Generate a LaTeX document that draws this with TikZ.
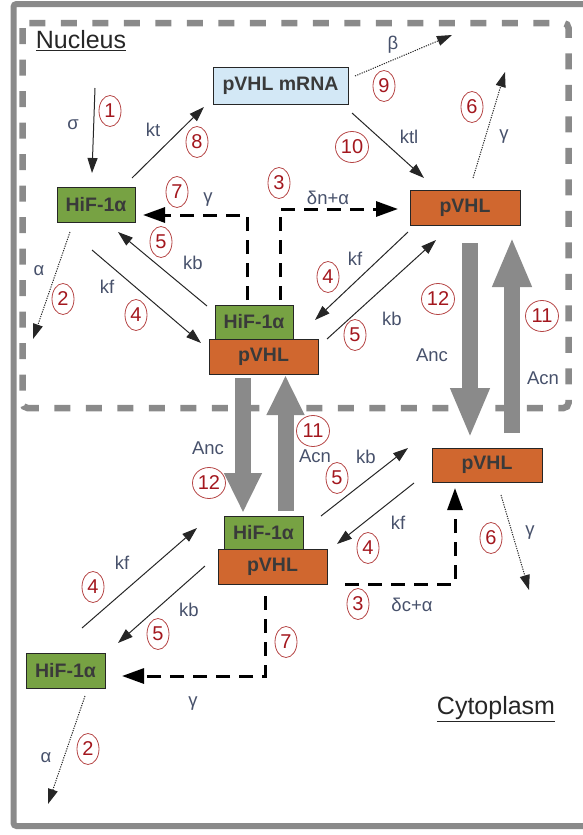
\documentclass[tikz,border=0pt]{standalone}
\usepackage{fontspec}
\setmainfont{Liberation Sans}
\usetikzlibrary{arrows.meta,shapes.geometric}
\definecolor{hifgreen}{HTML}{77A243}
\definecolor{vhlorange}{HTML}{D0672F}
\definecolor{mrnablue}{HTML}{D3E8F6}
\definecolor{boxtext}{HTML}{3A3A3A}
\definecolor{labtext}{HTML}{47516B}
\definecolor{numred}{HTML}{A3171E}
\definecolor{ringred}{HTML}{B54545}
\definecolor{framegray}{HTML}{8A8A8A}
\begin{document}
\begin{tikzpicture}[x=1pt,y=-1pt,
 box/.style={draw=black!85, line width=0.9pt, inner sep=0pt, font=\fontsize{19.5}{19.5}\selectfont\bfseries, text=boxtext},
 hif/.style={box, fill=hifgreen, minimum width=78pt, minimum height=34pt},
 vhl/.style={box, fill=vhlorange, minimum width=109pt, minimum height=35pt},
 lab/.style={font=\fontsize{18.5}{18.5}\selectfont, text=labtext, inner sep=0pt},
 num/.style={ellipse, draw=ringred, line width=0.8pt, minimum width=22pt, minimum height=31pt, inner sep=0pt, font=\fontsize{20}{20}\selectfont, text=numred},
 numw/.style={num, minimum width=33pt},
 rx/.style={draw=black!85, line width=1pt, -{Triangle[length=15pt,width=10pt]}},
 deg/.style={rx, dash pattern=on 1.2pt off 1.2pt},
 dsh/.style={draw=black, line width=3pt, dash pattern=on 14pt off 9pt, -{Triangle[length=22pt,width=15pt]}},
 big/.style={draw=framegray, line width=16pt, -{Triangle[length=50pt,width=36pt]}},
 bigm/.style={draw=framegray, line width=16pt, -{Triangle[length=40pt,width=35pt]}},
 title/.style={font=\fontsize{25}{25}\selectfont, text=black!85, inner sep=0pt},
]
\useasboundingbox (0,0) rectangle (582,835);
% frames
\draw[framegray, line width=6pt, rounded corners=3pt] (13.5,4) rectangle (600,826);
\draw[framegray, line width=6.5pt, dash pattern=on 16pt off 15.5pt, rounded corners=5pt] (22.5,23) rectangle (568.5,408);

\node[title] (nuc) at (81,41) {\underline{Nucleus}};
\node[title] (cyt) at (496,709) {\underline{Cytoplasm}};

% boxes
\node[box, fill=mrnablue, minimum width=135pt, minimum height=37pt] (mrna) at (280.5,85.5) {pVHL mRNA};
\node[hif, minimum height=35pt] (hifA) at (96,204.5) {HiF-1α};
\node[vhl, minimum width=110pt] (pvhlA) at (465,207.5) {pVHL};
\node[vhl] (pvhlB) at (263.5,356.5) {pVHL};
\node[hif] (hifB) at (254,322) {HiF-1α};
\node[vhl, minimum width=110pt, minimum height=34pt] (pvhlC) at (487,465) {pVHL};
\node[vhl] (pvhlD) at (272.5,566.5) {pVHL};
\node[hif, minimum width=79pt, minimum height=33pt] (hifC) at (263.5,532.5) {HiF-1α};
\node[hif, minimum width=79pt, minimum height=35pt] (hifD) at (65.5,670.5) {HiF-1α};

% free ends and connector ends
\coordinate (c1s) at (95,88);   \coordinate (c1e) at (92,173);
\coordinate (c8s) at (132,178); \coordinate (c8e) at (204,107);
\coordinate (c9s) at (355,76);  \coordinate (c9e) at (452,35);
\coordinate (c10s) at (352,113); \coordinate (c10e) at (424,178);
\coordinate (c6ts) at (473,178); \coordinate (c6te) at (505,72);
\coordinate (c2ts) at (70,232); \coordinate (c2te) at (33,339);
\coordinate (c4as) at (92,250); \coordinate (c4ae) at (201,343);
\coordinate (c5as) at (207,306); \coordinate (c5ae) at (118,232);
\coordinate (c7ts) at (247,300); \coordinate (c7tk) at (247,215); \coordinate (c7te) at (143,215);
\coordinate (c3ts) at (280,300); \coordinate (c3tk) at (280,209); \coordinate (c3te) at (398,209);
\coordinate (c4bs) at (408,232); \coordinate (c4be) at (315,320);
\coordinate (c5bs) at (327,339); \coordinate (c5be) at (436,240);
\coordinate (c12rs) at (470,243); \coordinate (c12re) at (470,438);
\coordinate (c11rs) at (512,433); \coordinate (c11re) at (512,237);
\coordinate (c12ms) at (243,378); \coordinate (c12me) at (243,513);
\coordinate (c11ms) at (285.5,511); \coordinate (c11me) at (285.5,375);
\coordinate (c5cs) at (321,516); \coordinate (c5ce) at (408,448);
\coordinate (c4cs) at (414,483); \coordinate (c4ce) at (337,544);
\coordinate (c3bs) at (345,584); \coordinate (c3bk) at (455,584); \coordinate (c3be) at (455,488);
\coordinate (c6bs) at (501,495); \coordinate (c6be) at (529,590);
\coordinate (c4ds) at (82,628); \coordinate (c4de) at (197,528);
\coordinate (c5ds) at (205,566); \coordinate (c5de) at (118,643);
\coordinate (c7bs) at (265,596); \coordinate (c7bk) at (265,676); \coordinate (c7be) at (122,676);
\coordinate (c2bs) at (85,696); \coordinate (c2be) at (48,804);

% connectors
\draw[rx] (c1s) -- (c1e);
\draw[rx] (c8s) -- (c8e);
\draw[deg] (c9s) -- (c9e);
\draw[rx] (c10s) -- (c10e);
\draw[deg] (c6ts) -- (c6te);
\draw[deg] (c2ts) -- (c2te);
\draw[rx] (c4as) -- (c4ae);
\draw[rx] (c5as) -- (c5ae);
\draw[dsh] (c7ts) -- (c7tk) -- (c7te);
\draw[dsh] (c3ts) -- (c3tk) -- (c3te);
\draw[rx] (c4bs) -- (c4be);
\draw[rx] (c5bs) -- (c5be);
\draw[big] (c12rs) -- (c12re);
\draw[big] (c11rs) -- (c11re);
\draw[bigm] (c12ms) -- (c12me);
\draw[bigm] (c11ms) -- (c11me);
\draw[rx] (c5cs) -- (c5ce);
\draw[rx] (c4cs) -- (c4ce);
\draw[dsh] (c3bs) -- (c3bk) -- (c3be);
\draw[deg] (c6bs) -- (c6be);
\draw[rx] (c4ds) -- (c4de);
\draw[rx] (c5ds) -- (c5de);
\draw[dsh] (c7bs) -- (c7bk) -- (c7be);
\draw[deg] (c2bs) -- (c2be);

% labels
\node[lab] (l1) at (73,125) {σ};      \node[num] (n1) at (110,111) {1};
\node[lab] (l8) at (153,130) {kt};    \node[num] (n8) at (197,142) {8};
\node[lab] (l9) at (393,45) {β};      \node[num] (n9) at (384,86) {9};
\node[lab] (l10) at (409,137) {ktl};  \node[numw] (n10) at (352,147) {10};
\node[lab] (l6t) at (504,137) {γ};    \node[num] (n6t) at (472,107) {6};
\node[lab] (l2t) at (39,271) {α};     \node[num] (n2t) at (63,299) {2};
\node[lab] (l4a) at (107,287) {kf};   \node[num] (n4a) at (136,315) {4};
\node[lab] (l5a) at (193,263) {kb};   \node[num] (n5a) at (161,242) {5};
\node[lab] (l7t) at (208,200) {γ};    \node[num] (n7t) at (177,192) {7};
\node[lab] (l3t) at (328,198) {δn+α}; \node[num] (n3t) at (279,183) {3};
\node[lab] (l4b) at (355,259) {kf};   \node[num] (n4b) at (328,277) {4};
\node[lab] (l5b) at (392,319) {kb};   \node[num] (n5b) at (355,335) {5};
\node[lab] (l12r) at (432,355) {Anc}; \node[numw] (n12r) at (438,299) {12};
\node[lab] (l11r) at (543,378) {Acn}; \node[numw] (n11r) at (542,316) {11};
\node[lab] (l12m) at (208,448) {Anc}; \node[numw] (n12m) at (209,483) {12};
\node[lab] (l11m) at (315,456) {Acn}; \node[numw] (n11m) at (313,431) {11};
\node[lab] (l5c) at (366,457) {kb};   \node[num] (n5c) at (337,478) {5};
\node[lab] (l4c) at (398,523) {kf};   \node[num] (n4c) at (368,548) {4};
\node[lab] (l3b) at (412,605) {δc+α}; \node[num] (n3b) at (358,604) {3};
\node[lab] (l6b) at (530,533) {γ};    \node[num] (n6b) at (491,538) {6};
\node[lab] (l4d) at (122,563) {kf};   \node[num] (n4d) at (93,587) {4};
\node[lab] (l5d) at (189,610) {kb};   \node[num] (n5d) at (158,634) {5};
\node[lab] (l7b) at (193,704) {γ};    \node[num] (n7b) at (286,642) {7};
\node[lab] (l2b) at (46,758) {α};     \node[num] (n2b) at (88,749) {2};
\end{tikzpicture}
\end{document}
